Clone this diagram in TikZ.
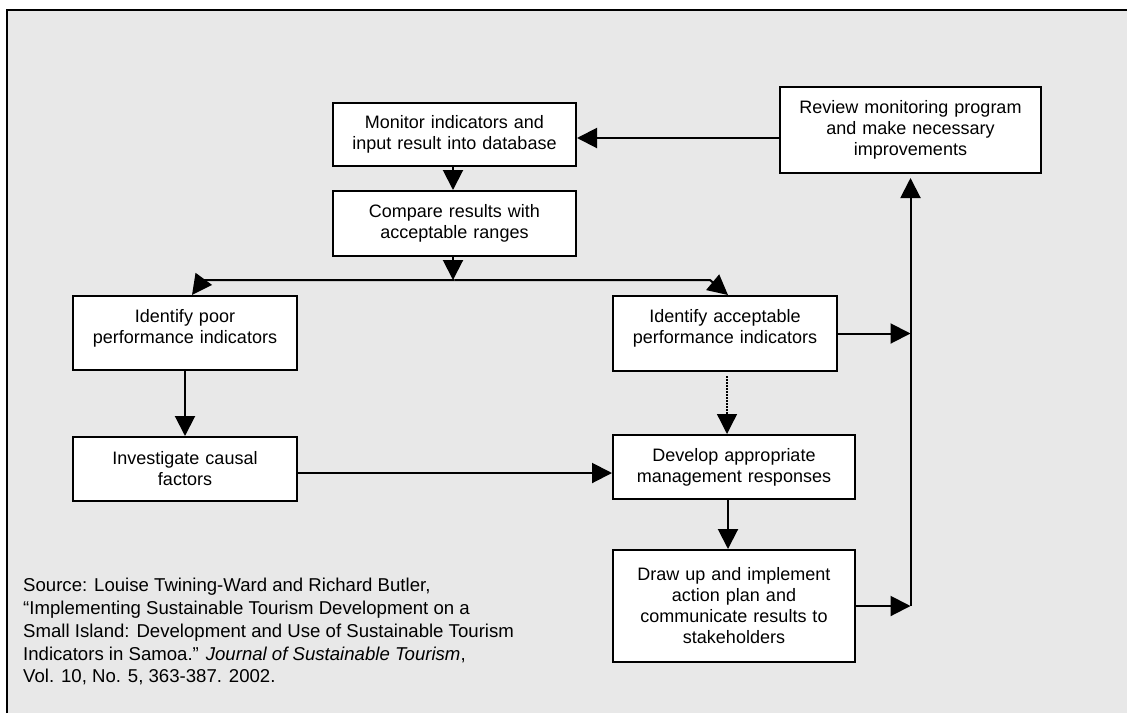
\documentclass[tikz,border=0pt]{standalone}
\usepackage{fontspec}
\setmainfont{Liberation Sans}
\usetikzlibrary{positioning,arrows.meta}
\definecolor{panel}{RGB}{232,232,232}

\begin{document}
\begin{tikzpicture}[
  x=1pt, y=-1pt,
  font=\fontsize{18pt}{21pt}\selectfont,
  box/.style={draw, line width=2pt, fill=white, align=center,
              inner xsep=4pt, inner ysep=0pt},
  arr/.style={-{Triangle[length=20pt,width=20pt]}, line width=2pt},
  dots/.style={arr, densely dotted, line width=1.3pt}]

\useasboundingbox (0,0) rectangle (1127,713);
\fill[panel] (7,10) rectangle (1127,713);
\draw[line width=2.4pt] (7,713) -- (7,10) -- (1127,10);

% Top: monitoring and comparison.
\node[box, text width=235pt, minimum height=63pt] (mon) at (454.5,134.5)
  {Monitor indicators and\\input result into database};
\node[box, text width=235pt, minimum height=65pt, below=23pt of mon] (cmp)
  {Compare results with\\acceptable ranges};
\node[box, text width=253pt, minimum height=86pt] (rev) at (910.5,130)
  {Review monitoring program\\and make necessary\\improvements};
\coordinate[below=23pt of cmp] (split);

% Left branch: poor indicators.
\node[box, text width=216pt, minimum height=74pt, text depth=35pt] (poor) at (185,333)
  {Identify poor\\performance indicators};
\node[box, text width=216pt, minimum height=64pt, below=65pt of poor] (inv)
  {Investigate causal\\factors};

% Right branch: acceptable indicators.
\node[box, text width=216pt, minimum height=75pt, text depth=35pt] (acc) at (725,333.5)
  {Identify acceptable\\performance indicators};
\node[box, text width=234pt, minimum height=64pt] (dev) at (734,467)
  {Develop appropriate\\management responses};
\node[box, text width=234pt, minimum height=112pt, below=49pt of dev] (act)
  {Draw up and implement\\action plan and\\communicate results to\\stakeholders};

\node[anchor=north west, align=left, inner sep=0pt,
      font=\fontsize{18.6pt}{22.8pt}\selectfont] (src) at (23,578)
  {Source: Louise Twining-Ward and Richard Butler,\\
   “Implementing Sustainable Tourism Development on a\\
   Small Island: Development and Use of Sustainable Tourism\\
   Indicators in Samoa.” \textit{Journal of Sustainable Tourism},\\
   Vol. 10, No. 5, 363-387. 2002.};

\draw[arr] ([yshift=-8pt]rev.west) -- ([yshift=-8pt]rev.west -| mon.east);
\draw[arr] ([xshift=-1.5pt]mon.south) -- ([xshift=-1.5pt]cmp.north);
\draw[arr] ([xshift=-1.5pt]cmp.south) -- ([xshift=-1.5pt]split);
\draw[arr] (split) -- ([xshift=18pt]poor.north |- split) -- ([xshift=7pt]poor.north);
\draw[arr] (split) -- ([xshift=-15pt]acc.north |- split) -- ([xshift=3pt]acc.north);
\draw[arr] (poor) -- (inv);
\draw[arr] ([yshift=-4pt]inv.east) -- ([yshift=-4pt]inv.east -| dev.west);
\draw[dots] ([xshift=2pt,yshift=-4pt]acc.south) -- ([xshift=2pt]acc.south |- dev.north);
\draw[arr] ([xshift=3pt]acc.south |- dev.south) -- ([xshift=3pt]acc.south |- act.north);
\draw[arr] (acc.east) -- (acc.east -| rev.south);
\draw[arr] (act.east) -- (act.east -| rev.south);
\draw[arr] (act.east -| rev.south) -- ([yshift=-4pt]rev.south);
\end{tikzpicture}
\end{document}
